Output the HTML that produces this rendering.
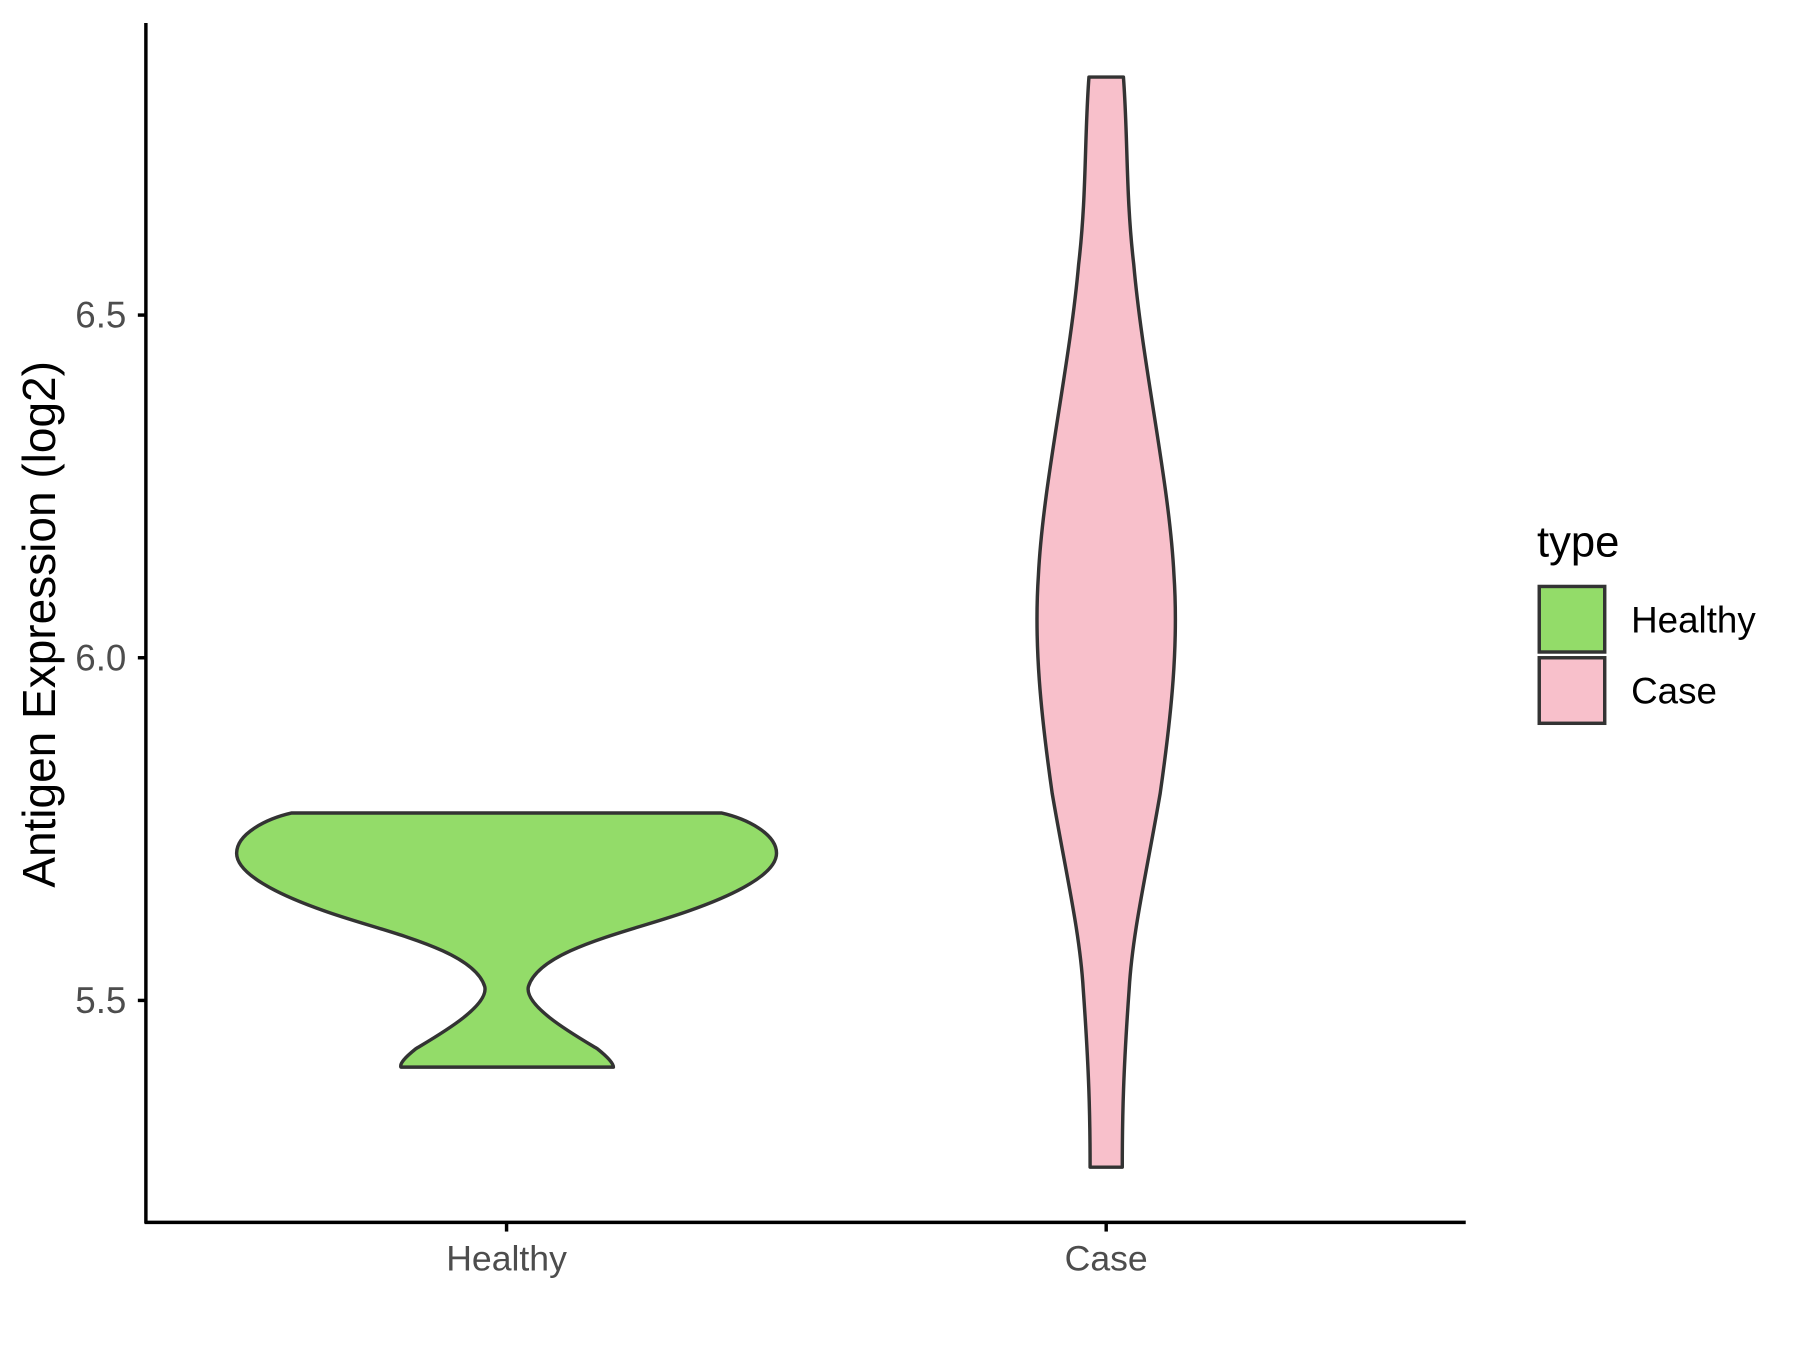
<!DOCTYPE html>
<html><head><meta charset="utf-8"><style>html,body{margin:0;padding:0;background:#fff}svg{display:block}</style></head>
<body>
<svg width="1800" height="1350" viewBox="0 0 1567 1174" preserveAspectRatio="none" xmlns="http://www.w3.org/2000/svg" font-family="Liberation Sans, sans-serif">
<rect width="1567" height="1174" fill="#fff"/>
<path fill="#93dc69" stroke="#333" stroke-width="3" stroke-linejoin="round" d="M254,707 L628,707 C650,712 676,725 676,742 C676,760 640,778 600,792 C550,810 470,825 460,858 C456,875 500,900 520,912 C530,920 534,925 534,928 L349,928 C348,925 352,920 362,912 C382,900 426,875 422,858 C412,825 332,810 282,792 C242,778 206,760 206,742 C206,725 232,712 254,707 Z"/>
<path fill="#f8c0cb" stroke="#333" stroke-width="3" stroke-linejoin="round" d="M949,67 L978,67 C982,120 980,170 987,230 C995,320 1018,420 1022,500 C1026,560 1020,620 1010,690 C998,760 986,810 983,860 C978,930 977,970 977,1015 L949,1015 C949,970 948,930 943,860 C940,810 928,760 916,690 C906,620 900,560 904,500 C908,420 931,320 939,230 C946,170 944,120 948,67 Z"/>
<g stroke="#000" stroke-width="3" fill="none">
<line x1="127" y1="20" x2="127" y2="1064"/>
<line x1="126" y1="1063" x2="1276" y2="1063"/>
<line x1="120" y1="274" x2="127" y2="274"/>
<line x1="120" y1="572" x2="127" y2="572"/>
<line x1="120" y1="870" x2="127" y2="870"/>
<line x1="441" y1="1063" x2="441" y2="1071"/>
<line x1="963" y1="1063" x2="963" y2="1071"/>
</g>
<g fill="#4d4d4d" font-size="32" text-anchor="end">
<text x="110" y="285">6.5</text>
<text x="110" y="583">6.0</text>
<text x="110" y="881">5.5</text>
</g>
<g fill="#4d4d4d" font-size="31" text-anchor="middle">
<text x="441" y="1105">Healthy</text>
<text x="963" y="1105">Case</text>
</g>
<text transform="translate(48,543) rotate(-90)" text-anchor="middle" font-size="40" fill="#000">Antigen Expression (log2)</text>
<text x="1338" y="484" font-size="38" fill="#000">type</text>
<rect x="1340" y="510" width="57" height="57" fill="#93dc69" stroke="#333" stroke-width="3"/>
<rect x="1340" y="572" width="57" height="57" fill="#f8c0cb" stroke="#333" stroke-width="3"/>
<text x="1420" y="550" font-size="32" fill="#000">Healthy</text>
<text x="1420" y="612" font-size="32" fill="#000">Case</text>
</svg>
</body></html>
